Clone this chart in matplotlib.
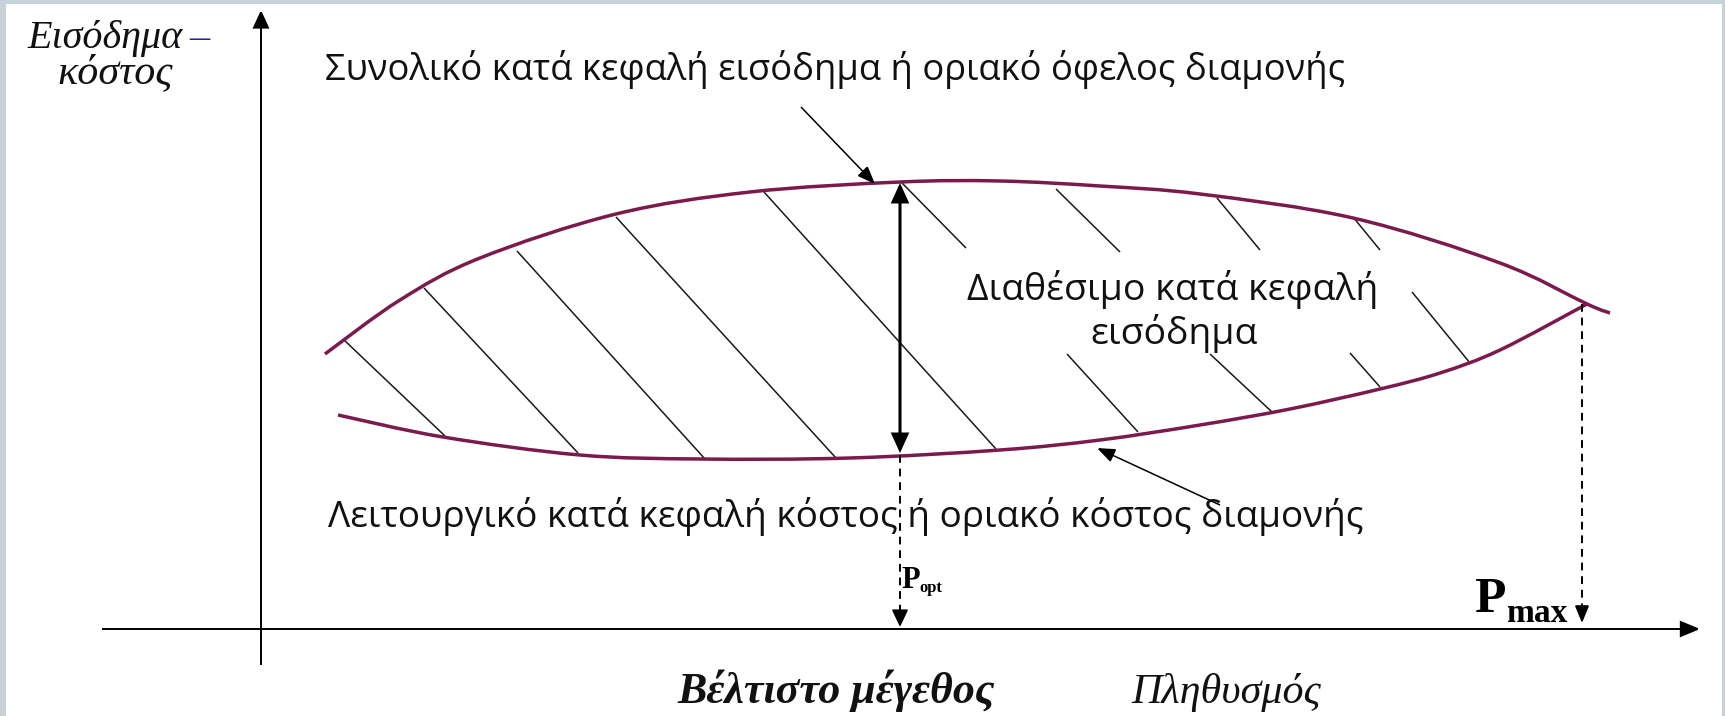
import matplotlib
matplotlib.use("Agg")
import matplotlib.pyplot as plt
from matplotlib.path import Path
from matplotlib.patches import PathPatch, FancyArrowPatch, Rectangle
import numpy as np

W, H = 1725, 716

# ---- data (units = pixels of the original picture) ----
upper_x = [325, 400, 480, 616, 750, 900, 1000, 1100, 1200, 1353, 1500, 1587, 1610]
upper_y = [354, 300, 258, 214, 192, 182, 181, 186, 194, 218, 263, 304, 313]

lower_x = [338, 443, 580, 700, 850, 1000, 1100, 1200, 1290, 1380, 1440, 1500, 1587]
lower_y = [415, 437, 455, 459, 458, 450, 440, 425, 409, 389, 373, 350, 304]

hatch_x0 = [343, 424, 517, 616, 764, 902, 1056, 1217, 1353, 1412, 1067, 1210, 1350]
hatch_y0 = [339, 288, 251, 217, 192, 183, 189, 198, 217, 292, 354, 354, 353]
hatch_x1 = [445, 578, 705, 836, 996, 966, 1120, 1260, 1380, 1470, 1138, 1272, 1380]
hatch_y1 = [436, 453, 459, 458, 449, 248, 252, 250, 250, 363, 432, 412, 387]

axis_origin = (261, 629)
x_axis_span = (102, 1700)
y_axis_span = (665, 10)
p_opt_x = 900
p_opt_span = (183, 453)
p_max_x = 1582
p_max_top = 304

label_top = "Συνολικό κατά κεφαλή εισόδημα ή οριακό όφελος διαμονής"
label_mid1 = "Διαθέσιμο κατά κεφαλή"
label_mid2 = "εισόδημα"
label_bottom = "Λειτουργικό κατά κεφαλή κόστος ή οριακό κόστος διαμονής"
ylabel_1 = "Εισόδημα"
ylabel_dash = "–"
ylabel_2 = "κόστος"
xlabel_opt = "Βέλτιστο μέγεθος"
xlabel_pop = "Πληθυσμός"

CURVE = "#7b1a4c"
BORDER = "#c6d1d8"

fig = plt.figure(figsize=(W / 100, H / 100), dpi=100, facecolor=BORDER)
ax = fig.add_axes([0, 0, 1, 1])
ax.set_xlim(0, W)
ax.set_ylim(H, 0)
ax.axis("off")
ax.add_patch(Rectangle((6, 4), 1716, 720, facecolor="white", edgecolor="none", zorder=0))


def smooth_path(xs, ys):
    pts = np.column_stack([xs, ys]).astype(float)
    n = len(pts)
    verts = [pts[0]]
    codes = [Path.MOVETO]
    for i in range(n - 1):
        p0 = pts[i - 1] if i > 0 else pts[i]
        p1 = pts[i]
        p2 = pts[i + 1]
        p3 = pts[i + 2] if i + 2 < n else pts[i + 1]
        verts += [p1 + (p2 - p0) / 6, p2 - (p3 - p1) / 6, p2]
        codes += [Path.CURVE4] * 3
    return Path(verts, codes)


def arrow(p0, p1, lw, hl, hw, style="-|>", z=5, color="black"):
    a = FancyArrowPatch(p0, p1, arrowstyle=f"{style},head_length={hl},head_width={hw}",
                        mutation_scale=1, lw=lw, color=color, shrinkA=0, shrinkB=0,
                        zorder=z, joinstyle="miter", capstyle="butt")
    ax.add_patch(a)


renderer = fig.canvas.get_renderer()


def fit_text(s, x0, x1, y, ha="left", **kw):
    xp = x0 if ha == "left" else (x0 + x1) / 2
    t = ax.text(xp, y, s, fontsize=20, ha=ha, va="baseline", zorder=6, **kw)
    w = t.get_window_extent(renderer=renderer).width
    t.set_fontsize(20 * (x1 - x0) / w)
    return t


# hatch lines
for a, b, c, d in zip(hatch_x0, hatch_y0, hatch_x1, hatch_y1):
    ax.plot([a, c], [b, d], color="#1a1a1a", lw=1.1, zorder=2, solid_capstyle="butt")

# curves
ax.add_patch(PathPatch(smooth_path(upper_x, upper_y), fill=False, edgecolor=CURVE, lw=2.5, zorder=3))
ax.add_patch(PathPatch(smooth_path(lower_x, lower_y), fill=False, edgecolor=CURVE, lw=2.5, zorder=3))

# axes
ox, oy = axis_origin
arrow((x_axis_span[0], oy), (x_axis_span[1], oy), 1.4, 12, 5)
arrow((ox, y_axis_span[0]), (ox, y_axis_span[1]), 1.4, 11, 5)

# optimum double arrow
arrow((p_opt_x, p_opt_span[1]), (p_opt_x, p_opt_span[0]), 2.2, 11, 5, style="<|-|>", z=4)

# dashed drop lines
ax.plot([p_opt_x, p_opt_x], [p_opt_span[1] + 2, oy - 16], color="black", lw=1.4,
        ls=(0, (4, 3)), zorder=4)
arrow((p_opt_x, oy - 20), (p_opt_x, oy - 2), 1.0, 11, 5.2)
ax.plot([p_max_x, p_max_x], [p_max_top, oy - 20], color="black", lw=1.4,
        ls=(0, (4, 3)), zorder=4)
arrow((p_max_x, oy - 24), (p_max_x, oy - 6), 1.0, 11, 4.5)

# leader arrows
arrow((801, 107), (875, 184), 1.1, 11, 4.3)
arrow((1220, 505), (1097, 448), 1.1, 11, 4.3)

sans = ["Open Sans", "DejaVu Sans"]
serif = ["Liberation Serif", "DejaVu Serif"]

fit_text(label_top, 325, 1344, 80, family=sans, color="#111111")
tm = fit_text(label_mid1, 968, 1378, 300, ha="center", family=sans, color="#111111")
ax.text(1174, 344, label_mid2, ha="center", va="baseline", family=sans, color="#111111",
        zorder=6, fontsize=tm.get_fontsize())
fit_text(label_bottom, 328, 1362, 527, family=sans, color="#111111")

ty = fit_text(ylabel_1, 27, 182, 48, family=serif, style="italic", color="#111111")
ax.text(189, 48, ylabel_dash, fontsize=ty.get_fontsize(), family=serif, color="#23238e",
        va="baseline", ha="left")
ax.text(115, 83, ylabel_2, fontsize=ty.get_fontsize() * 1.05, family=serif, style="italic",
        color="#111111", va="baseline", ha="center")

fit_text(xlabel_opt, 677, 995, 703, family=serif, style="italic", weight="bold", color="#111111")
fit_text(xlabel_pop, 1131, 1320, 703, family=serif, style="italic", color="#111111")

# P labels
ax.text(901, 588, "P", fontsize=22, family=serif, weight="bold", va="baseline", ha="left")
ax.text(919, 592, "opt", fontsize=12, family=serif, weight="bold", va="baseline", ha="left")
ax.text(1474, 612, "P", fontsize=37, family=serif, weight="bold", va="baseline", ha="left")
ax.text(1506, 622, "max", fontsize=24, family=serif, weight="bold", va="baseline", ha="left")

fig.savefig("out.png", dpi=100, facecolor=BORDER)
